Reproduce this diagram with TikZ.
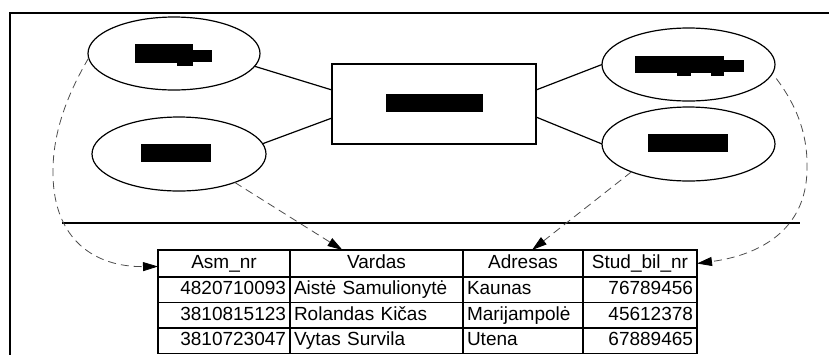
\documentclass[tikz,border=0pt]{standalone}
\usepackage{fontspec}
\setmainfont{Liberation Sans}
\usetikzlibrary{shapes.geometric,arrows.meta}

\begin{document}
\begin{tikzpicture}[x=1pt,y=-1pt,
  attr/.style={draw, ellipse, line width=1.2pt, inner sep=0pt, outer sep=0pt},
  entity/.style={draw, rectangle, line width=1.2pt, inner sep=0pt, outer sep=0pt},
  link/.style={line width=1.2pt},
  ref/.style={dash pattern=on 8pt off 5pt, line width=0.8pt, draw=black!70,
    -{Triangle[length=15pt,width=9pt,color=black]}},
  cell/.style={draw, rectangle, line width=1.8pt, anchor=north west,
    inner xsep=4pt, inner ysep=0pt, outer sep=0pt,
    font=\fontsize{19}{22}\selectfont, text height=14pt, text depth=4pt},
  c1/.style={cell, minimum width=132pt, text width=124pt},
  c2/.style={cell, minimum width=173pt, text width=165pt},
  c3/.style={cell, minimum width=120pt, text width=112pt},
  c4/.style={cell, minimum width=114pt, text width=106pt},
  hd/.style={minimum height=27pt, align=center},
  rw/.style={minimum height=25.5pt}
]
\useasboundingbox (0,0) rectangle (829,354);

% frame
\draw[line width=2.6pt] (10,360) -- (10,13) -- (829,13);
% separator between the ER part and the table
\draw[line width=1.3pt] (62,223) -- (800,223);

% ER diagram: entity and attributes
\node[entity, minimum width=204pt, minimum height=80pt] (ent) at (434,104) {};
\node[attr, minimum width=172pt, minimum height=73pt] (a1) at (174,53.5) {};
\node[attr, minimum width=174pt, minimum height=74pt] (a2) at (179,154) {};
\node[attr, minimum width=173pt, minimum height=73pt] (a3) at (688.5,64.5) {};
\node[attr, minimum width=173pt, minimum height=74pt] (a4) at (688.5,144) {};

% blacked-out labels
\fill (386,94) rectangle (483,112);
\fill (135,44) rectangle (193,63);
\fill (177,63) rectangle (193,66);
\fill (193,50) rectangle (212,62);
\fill (141,144) rectangle (211,162);
\fill (635,56) rectangle (724,73);
\fill (677,73) rectangle (691,76);
\fill (711,73) rectangle (724,76);
\fill (724,60) rectangle (744,72);
\fill (648,134) rectangle (728,152);

\draw[link] (a1.-9) -- ([yshift=14pt]ent.west);
\draw[link] (a2.7) -- ([yshift=-14pt]ent.west);
\draw[link] ([yshift=14pt]ent.east) -- (a3.west);
\draw[link] ([yshift=-13pt]ent.east) -- (a4.west);

% table
\node[c1, hd] (h1) at (158,250) {Asm\_nr};
\node[c2, hd] (h2) at (290,250) {Vardas};
\node[c3, hd] (h3) at (463,250) {Adresas};
\node[c4, hd] (h4) at (583,250) {Stud\_bil\_nr};

\node[c1, rw, align=right] (r1a) at (158,277) {4820710093};
\node[c2, rw, align=left]  (r1b) at (290,277) {Aistė Samulionytė};
\node[c3, rw, align=left]  (r1c) at (463,277) {Kaunas};
\node[c4, rw, align=right] (r1d) at (583,277) {76789456};

\node[c1, rw, align=right] (r2a) at (158,302.5) {3810815123};
\node[c2, rw, align=left]  (r2b) at (290,302.5) {Rolandas Kičas};
\node[c3, rw, align=left]  (r2c) at (463,302.5) {Marijampolė};
\node[c4, rw, align=right] (r2d) at (583,302.5) {45612378};

\node[c1, rw, align=right] (r3a) at (158,328) {3810723047};
\node[c2, rw, align=left]  (r3b) at (290,328) {Vytas Survila};
\node[c3, rw, align=left]  (r3c) at (463,328) {Utena};
\node[c4, rw, align=right] (r3d) at (583,328) {67889465};

% references from attributes to columns
\draw[ref] (a1.183) .. controls (70,90) and (52,130) .. (53,175)
  .. controls (54,240) and (95,267) .. ([yshift=-3pt]h1.west);
\draw[ref] (a2.-27) -- ([xshift=-34pt]h2.north);
\draw[ref] (a4.206) -- ([xshift=9pt]h3.north);
\draw[ref] ([xshift=8pt]a3.-10) .. controls (800,110) and (808,140) .. (807,170)
  .. controls (806,230) and (760,255) .. (h4.east);
\end{tikzpicture}
\end{document}
